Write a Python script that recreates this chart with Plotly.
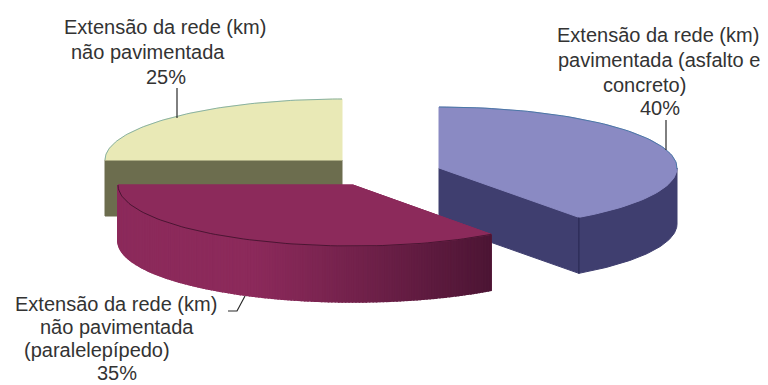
import numpy as np
import plotly.graph_objects as go

# Share of the road network by surface type, clockwise from twelve o'clock
shares = [40, 35, 25]
pct_labels = ["40%", "35%", "25%"]
label_lines = [
    ["Extensão da rede (km)", "pavimentada (asfalto e", "concreto)"],
    ["Extensão da rede (km)", "não pavimentada", "(paralelepípedo)"],
    ["Extensão da rede (km)", "não pavimentada"],
]
top_colors = ["#8A8AC3", "#8C2A5B", "#E9E9B6"]
side_colors = ["#3F3E6F", "#8C2A5B", "#6C6D4E"]
edge_colors = ["#2F6F9A", "#3A1028", "#5F9A9A"]

# Projection of each exploded slice: centre, semi-axes, wall depth
centers = [(439, 168), (353, 185), (342, 160)]
radii_x = [238, 235, 237]
RY, DEPTH = 61, 56

# Text line centres (x, y) per slice, percentage line last
text_pos = [
    [(658, 35), (659, 60), (644, 85), (660, 108)],
    [(116, 304), (117, 327), (97, 350), (117, 373)],
    [(165, 27), (148, 52), (166, 77)],
]
leaders = [
    ([666, 666], [120, 150]),
    ([228, 237, 245], [311, 311, 296]),
    ([177, 177], [88, 118]),
]

cum = np.cumsum([0] + shares) / sum(shares) * 2 * np.pi
fig = go.Figure()


def poly(xs, ys, fill, line=None, width=1):
    fig.add_trace(go.Scatter(
        x=list(xs), y=list(ys), mode="lines", fill="toself", fillcolor=fill,
        line=dict(color=line or fill, width=width), hoverinfo="skip", showlegend=False))


def stroke(xs, ys, color, width=1):
    fig.add_trace(go.Scatter(
        x=list(xs), y=list(ys), mode="lines", line=dict(color=color, width=width),
        hoverinfo="skip", showlegend=False))


def rim(i, a, b, n=80):
    cx, cy = centers[i]
    t = np.linspace(a, b, n)
    return cx + radii_x[i] * np.sin(t), cy - RY * np.cos(t)


def mix(c1, c2, f):
    p = [int(c1[k:k + 2], 16) for k in (1, 3, 5)]
    q = [int(c2[k:k + 2], 16) for k in (1, 3, 5)]
    return "rgb(%d,%d,%d)" % tuple(round(u + (v - u) * f) for u, v in zip(p, q))


def draw_slice(i):
    a, b = cum[i], cum[i + 1]
    cx, cy = centers[i]
    ax, ay = rim(i, a, a, 1)
    bx, by = rim(i, b, b, 1)

    # Flat cut faces that look towards the viewer
    for ex, ey in ((ax, ay), (bx, by)):
        if ey[0] >= cy - 1:
            poly([cx, ex[0], ex[0], cx, cx],
                 [cy, ey[0], ey[0] + DEPTH, cy + DEPTH, cy], side_colors[i])

    # Outer wall, only the front half of the ellipse shows
    lo, hi = max(a, np.pi / 2), min(b, 3 * np.pi / 2)
    if hi > lo:
        if i == 1:
            # The maroon wall darkens towards its right end
            steps = 150
            edges = np.linspace(lo, hi, steps + 1)
            for k in range(steps):
                x, y = rim(i, edges[k], edges[k + 1], 4)
                f = np.clip((x.mean() - 250) / (cx + radii_x[i] * 0.59 - 250), 0, 1)
                poly(np.r_[x, x[::-1], x[0]], np.r_[y, y[::-1] + DEPTH, y[0]],
                     mix("#8C2A5B", "#4C1534", f ** 1.1), width=1.5)
        else:
            x, y = rim(i, lo, hi)
            poly(np.r_[x, x[::-1], x[0]], np.r_[y, y[::-1] + DEPTH, y[0]], side_colors[i])

    # Top face
    x, y = rim(i, a, b)
    poly(np.r_[cx, x, cx], np.r_[cy, y, cy], top_colors[i])
    if i == 1:
        stroke(x, y, edge_colors[i], 0.8)
    else:
        # Thin rim only along the rear half of the ellipse
        keep = np.cos(np.linspace(a, b, 80)) > -0.05
        stroke(x[keep], y[keep], edge_colors[i], 0.7)


draw_slice(2)
draw_slice(0)
draw_slice(1)

# Ridge where the blue cut face meets its outer wall
tx, ty = rim(0, cum[1], cum[1], 1)
stroke([tx[0], tx[0]], [ty[0], ty[0] + DEPTH], "#26264F", 1)

for xs, ys in leaders:
    stroke(xs, ys, "#2A2A2A", 1.2)

annotations = []
for lines, pct, pos in zip(label_lines, pct_labels, text_pos):
    for text, (px, py) in zip(lines + [pct], pos):
        annotations.append(dict(
            x=px, y=py, text=text, xref="x", yref="y", showarrow=False,
            xanchor="center", yanchor="middle",
            font=dict(family="Liberation Sans", size=20, color="#333333")))

fig.update_layout(
    width=768, height=385, margin=dict(l=0, r=0, t=0, b=0),
    paper_bgcolor="white", plot_bgcolor="white", showlegend=False,
    xaxis=dict(range=[0, 768], visible=False, fixedrange=True),
    yaxis=dict(range=[385, 0], visible=False, fixedrange=True),
    annotations=annotations,
)
fig.write_html("out.html", config={"displayModeBar": False})
